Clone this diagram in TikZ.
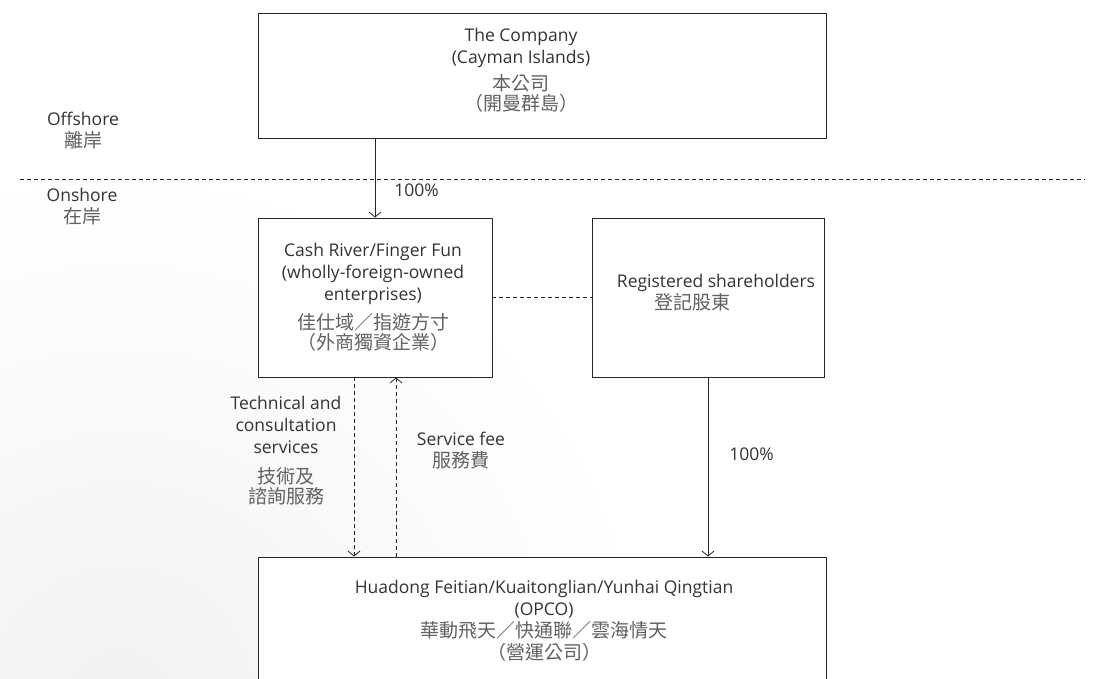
\documentclass[tikz,border=0pt]{standalone}
\usepackage{fontspec}
\setmainfont{Open Sans}
\newfontfamily\cjkfont{Noto Sans CJK TC}
\newcommand{\zh}[1]{{\cjkfont\fontsize{19}{22}\selectfont\color{black!62}#1}}
\usetikzlibrary{arrows.meta,positioning}

\begin{document}
\begin{tikzpicture}[x=1pt,y=-1pt,
	box/.style={draw=black!85,line width=0.9pt,fill=white,inner sep=0pt},
	txt/.style={text=black!80,align=center,inner sep=0pt,font=\fontsize{17.5}{22}\selectfont},
	link/.style={line width=0.8pt,draw=black!85},
	tip/.style={-{Straight Barb[length=5pt,width=12pt]}},
	dashlink/.style={link,dash pattern=on 4pt off 3pt}]
			\useasboundingbox[fill=white] (0,0) rectangle (1105,678);
			\shade[inner color=black!5,outer color=white] (120,700) circle (540);
			%\draw[help lines,step=50] (0,0) grid (1105,678);

			% offshore / onshore
			\draw[dashlink] (20,179) -- (1085,179);
			\node[txt] (offshore) at (83,131) {Offshore\\\zh{離岸}};
			\node[txt] (onshore) at (82,206.5) {Onshore\\\zh{在岸}};

			% boxes
			\node[box,minimum width=568,minimum height=125] (company) at (542,75.5) {};
			\node[txt] (companytxt) at (521,70) {The Company\\(Cayman Islands)\\[5pt]\zh{本公司}\\[-2pt]\zh{（開曼群島）}};

			\node[box,minimum width=234,minimum height=159] (wfoe) at (375,297.5) {};
			\node[txt] (wfoetxt) at (373,297) {Cash River/Finger Fun\\(wholly-foreign-owned\\enterprises)\\[7pt]\zh{佳仕域／指遊方寸}\\[-2pt]\zh{（外商獨資企業）}};

			\node[box,minimum width=232,minimum height=159] (holders) at (708,297.5) {};
			\node[txt,align=left] (holderstxt) at (716,292.5) {Registered shareholders\\\hspace*{38pt}\zh{登記股東}};

			\node[box,minimum width=568,minimum height=140] (opco) at (542,627) {};
			\node[txt] (opcotxt) at (544,620.5) {Huadong Feitian/Kuaitonglian/Yunhai Qingtian\\(OPCO)\\\zh{華動飛天／快通聯／雲海情天}\\\zh{（營運公司）}};

			% connectors
			\draw[link,tip] (wfoe.north |- company.south) -- (wfoe.north) node[txt,pos=0.66,right=19pt] (own1) {100\%};
			\draw[dashlink] (wfoe.east) -- (holders.west);
			\draw[dashlink,tip] ([xshift=-21]wfoe.south) -- ([xshift=-21]wfoe.south |- opco.north);
			\draw[dashlink,tip] ([xshift=21]wfoe.south |- opco.north) -- ([xshift=21]wfoe.south);
			\draw[link,tip] (holders.south) -- (holders.south |- opco.north) node[txt,pos=0.43,right=21pt] (own2) {100\%};

			\node[txt] (services) at (286,451) {Technical and\\consultation\\services\\[8pt]\zh{技術及}\\[-2pt]\zh{諮詢服務}};
			\node[txt] (fee) at (461,451) {Service fee\\\zh{服務費}};
\end{tikzpicture}
\end{document}
